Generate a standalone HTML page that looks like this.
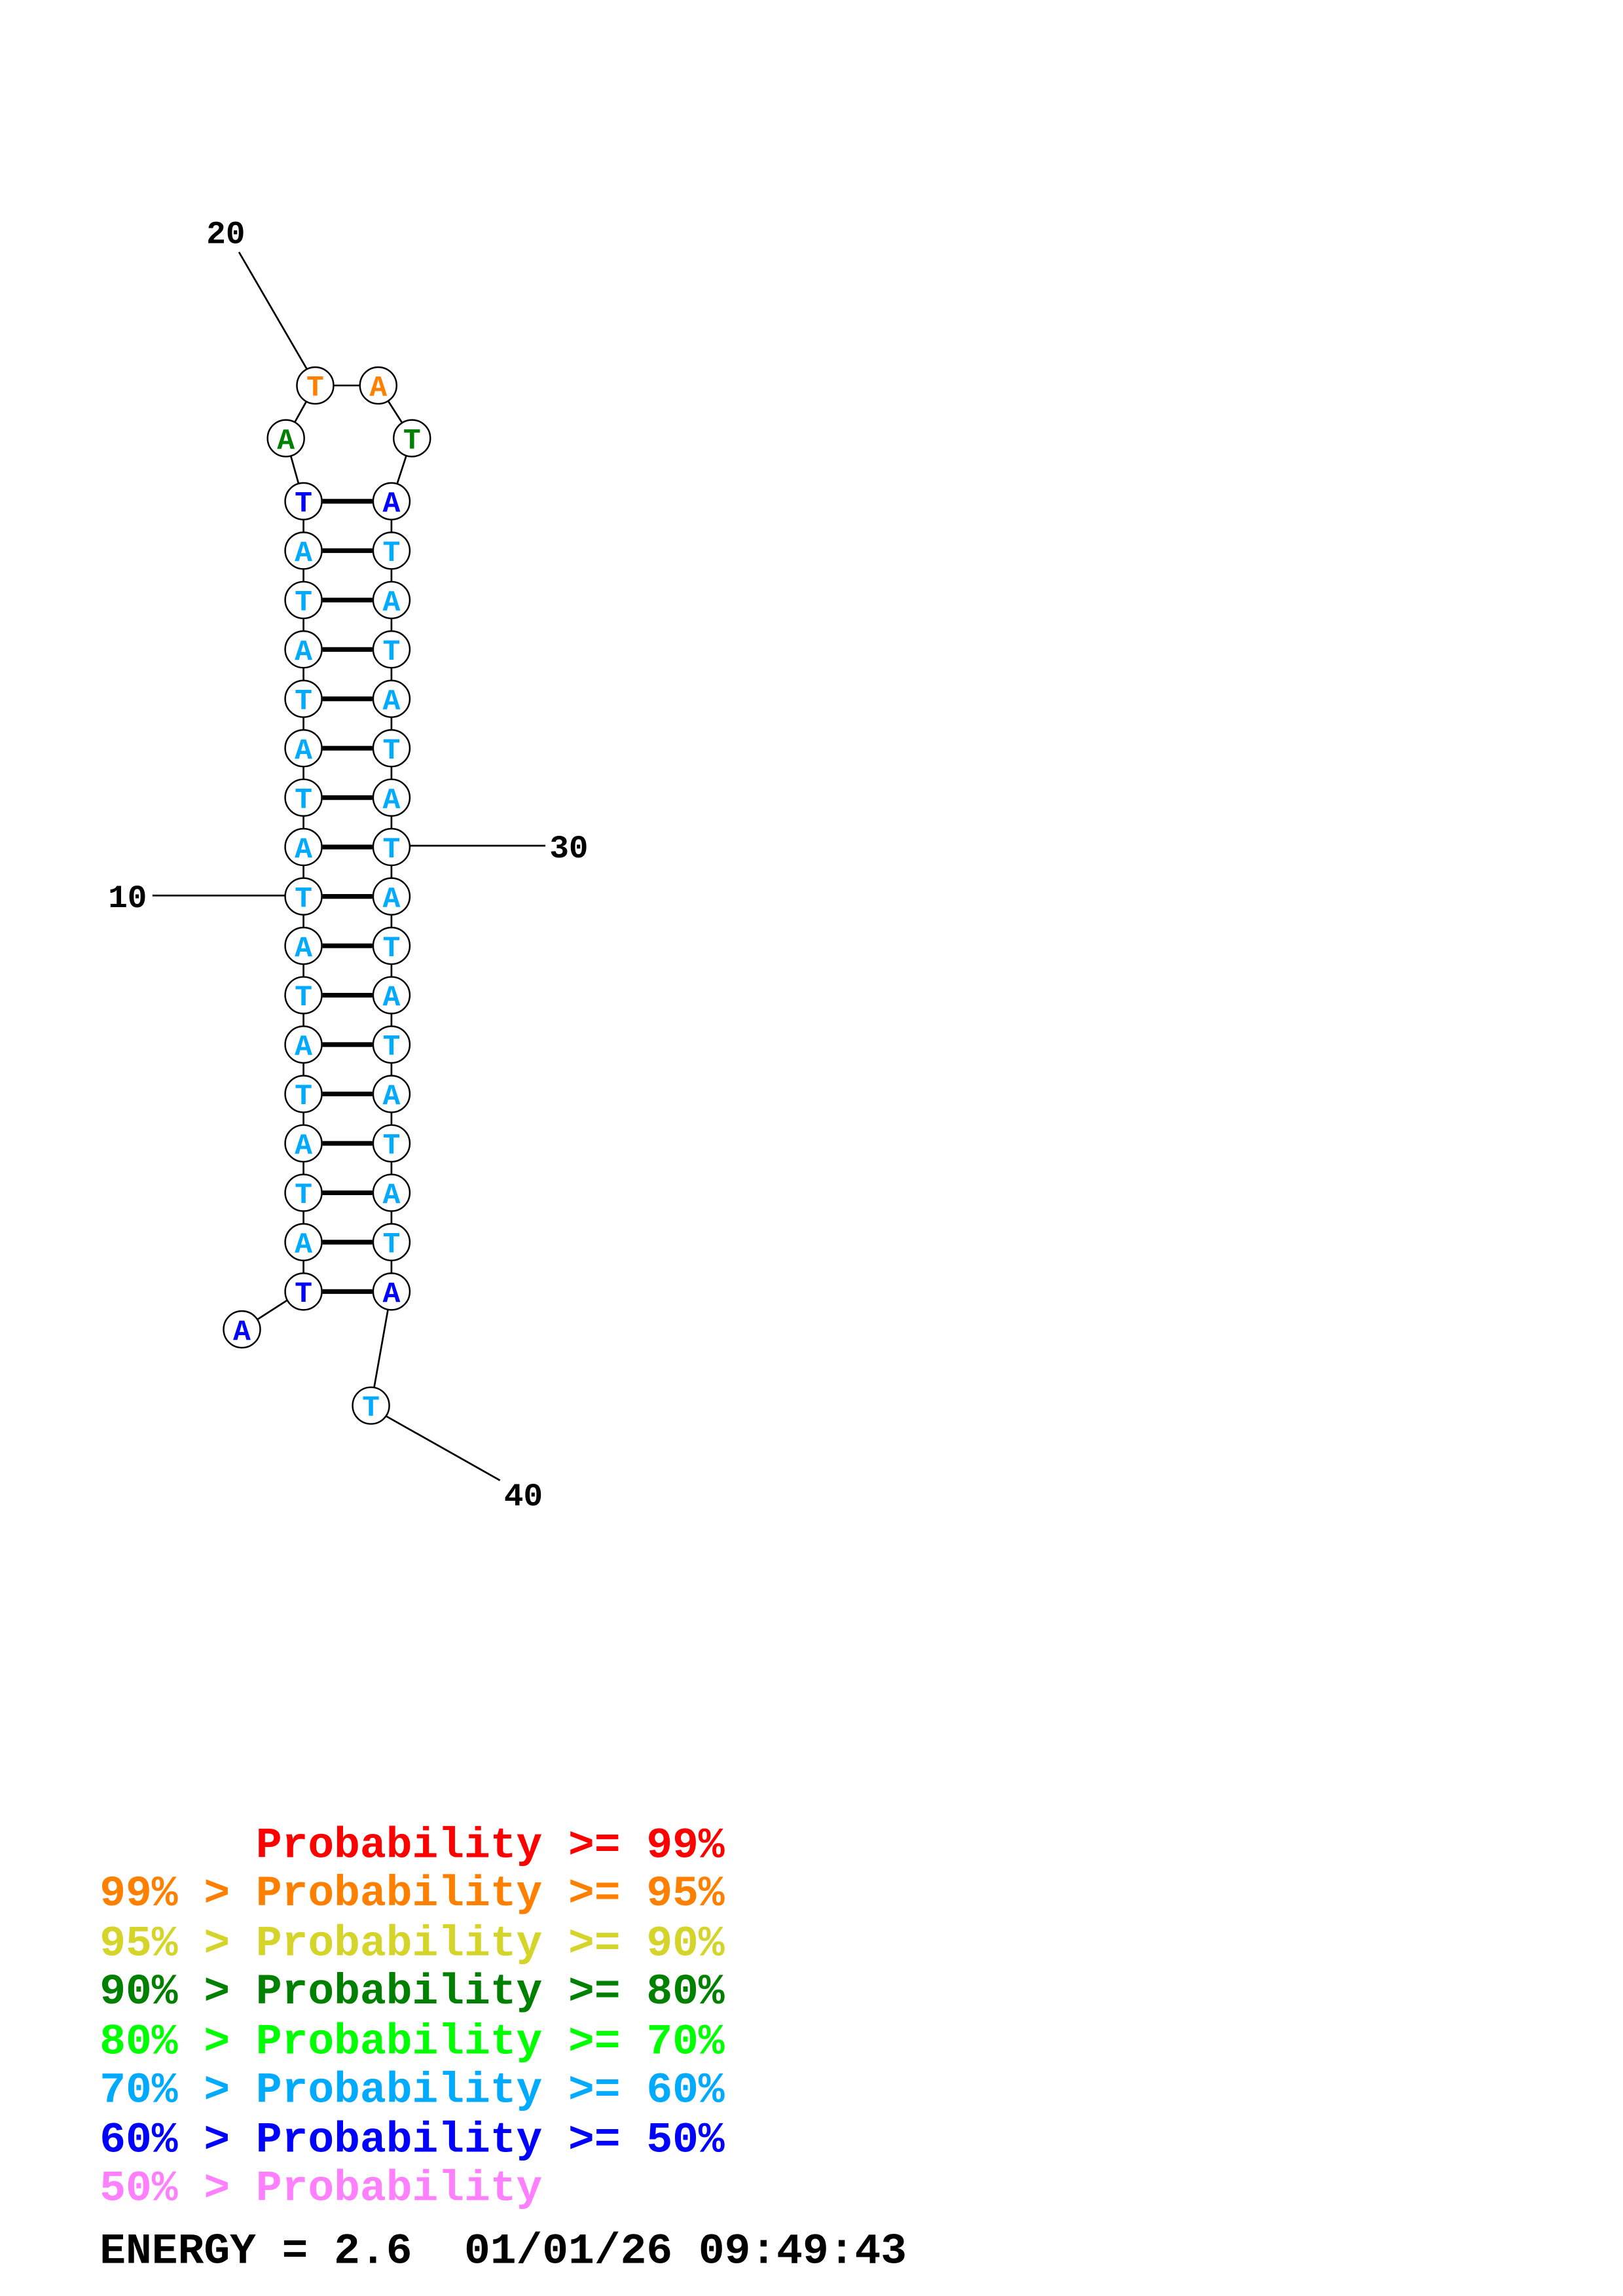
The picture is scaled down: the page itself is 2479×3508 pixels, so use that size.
<!DOCTYPE html>
<html><head><meta charset="utf-8"><style>
html,body{margin:0;padding:0;background:#fff;}
svg{display:block;}
text{font-family:"Liberation Mono","DejaVu Sans Mono",monospace;font-weight:bold;}
.pre text{white-space:pre;}
</style></head><body>
<svg width="2479" height="3508" viewBox="0 0 1107 1566.5" xmlns="http://www.w3.org/2000/svg">
<rect width="1107" height="1566.5" fill="#fff"/>
<g stroke="#000" stroke-width="1.2" fill="none">
<line x1="163" y1="172" x2="210" y2="253"/>
<line x1="104" y1="611" x2="197" y2="611"/>
<line x1="277" y1="577" x2="372" y2="577"/>
<line x1="263" y1="966" x2="341" y2="1010"/>
<line x1="215" y1="263" x2="258" y2="263"/>
<line x1="215" y1="263" x2="195" y2="299"/>
<line x1="258" y1="263" x2="281" y2="299"/>
<line x1="195" y1="299" x2="207" y2="342"/>
<line x1="281" y1="299" x2="267" y2="342"/>
<line x1="207" y1="342" x2="207" y2="880"/>
<line x1="267" y1="342" x2="267" y2="880"/>
<line x1="207" y1="880" x2="165" y2="907"/>
<line x1="267" y1="880" x2="253" y2="959"/>
</g>
<g stroke="#000" stroke-width="3.2">
<line x1="220" y1="342" x2="254" y2="342"/><line x1="220" y1="375.7" x2="254" y2="375.7"/>
<line x1="220" y1="409.4" x2="254" y2="409.4"/><line x1="220" y1="443.1" x2="254" y2="443.1"/>
<line x1="220" y1="476.8" x2="254" y2="476.8"/><line x1="220" y1="510.5" x2="254" y2="510.5"/>
<line x1="220" y1="544.2" x2="254" y2="544.2"/><line x1="220" y1="577.9" x2="254" y2="577.9"/>
<line x1="220" y1="611.6" x2="254" y2="611.6"/><line x1="220" y1="645.3" x2="254" y2="645.3"/>
<line x1="220" y1="679" x2="254" y2="679"/><line x1="220" y1="712.7" x2="254" y2="712.7"/>
<line x1="220" y1="746.4" x2="254" y2="746.4"/><line x1="220" y1="780.1" x2="254" y2="780.1"/>
<line x1="220" y1="813.8" x2="254" y2="813.8"/><line x1="220" y1="847.5" x2="254" y2="847.5"/>
<line x1="220" y1="881.2" x2="254" y2="881.2"/>
</g>
<g stroke="#000" stroke-width="1.1" fill="#fff">
<circle cx="215" cy="263" r="12.5"/><circle cx="258" cy="263" r="12.5"/>
<circle cx="195" cy="299" r="12.5"/><circle cx="281" cy="299" r="12.5"/>
<circle cx="165" cy="907" r="12.5"/><circle cx="253" cy="959" r="12.5"/>
<circle cx="207" cy="342" r="12.5"/><circle cx="267" cy="342" r="12.5"/>
<circle cx="207" cy="375.7" r="12.5"/><circle cx="267" cy="375.7" r="12.5"/>
<circle cx="207" cy="409.4" r="12.5"/><circle cx="267" cy="409.4" r="12.5"/>
<circle cx="207" cy="443.1" r="12.5"/><circle cx="267" cy="443.1" r="12.5"/>
<circle cx="207" cy="476.8" r="12.5"/><circle cx="267" cy="476.8" r="12.5"/>
<circle cx="207" cy="510.5" r="12.5"/><circle cx="267" cy="510.5" r="12.5"/>
<circle cx="207" cy="544.2" r="12.5"/><circle cx="267" cy="544.2" r="12.5"/>
<circle cx="207" cy="577.9" r="12.5"/><circle cx="267" cy="577.9" r="12.5"/>
<circle cx="207" cy="611.6" r="12.5"/><circle cx="267" cy="611.6" r="12.5"/>
<circle cx="207" cy="645.3" r="12.5"/><circle cx="267" cy="645.3" r="12.5"/>
<circle cx="207" cy="679" r="12.5"/><circle cx="267" cy="679" r="12.5"/>
<circle cx="207" cy="712.7" r="12.5"/><circle cx="267" cy="712.7" r="12.5"/>
<circle cx="207" cy="746.4" r="12.5"/><circle cx="267" cy="746.4" r="12.5"/>
<circle cx="207" cy="780.1" r="12.5"/><circle cx="267" cy="780.1" r="12.5"/>
<circle cx="207" cy="813.8" r="12.5"/><circle cx="267" cy="813.8" r="12.5"/>
<circle cx="207" cy="847.5" r="12.5"/><circle cx="267" cy="847.5" r="12.5"/>
<circle cx="207" cy="881.2" r="12.5"/><circle cx="267" cy="881.2" r="12.5"/>
</g>
<g font-size="20" text-anchor="middle" fill="#00aaff">
<text x="215" y="270" fill="#ff8000">T</text><text x="258" y="270" fill="#ff8000">A</text>
<text x="195" y="306" fill="#008000">A</text><text x="281" y="306" fill="#008000">T</text>
<text x="165" y="914" fill="#0000ff">A</text><text x="253" y="966">T</text>
<text x="207" y="349" fill="#0000ff">T</text><text x="267" y="349" fill="#0000ff">A</text>
<text x="207" y="382.7">A</text><text x="267" y="382.7">T</text>
<text x="207" y="416.4">T</text><text x="267" y="416.4">A</text>
<text x="207" y="450.1">A</text><text x="267" y="450.1">T</text>
<text x="207" y="483.8">T</text><text x="267" y="483.8">A</text>
<text x="207" y="517.5">A</text><text x="267" y="517.5">T</text>
<text x="207" y="551.2">T</text><text x="267" y="551.2">A</text>
<text x="207" y="584.9">A</text><text x="267" y="584.9">T</text>
<text x="207" y="618.6">T</text><text x="267" y="618.6">A</text>
<text x="207" y="652.3">A</text><text x="267" y="652.3">T</text>
<text x="207" y="686">T</text><text x="267" y="686">A</text>
<text x="207" y="719.7">A</text><text x="267" y="719.7">T</text>
<text x="207" y="753.4">T</text><text x="267" y="753.4">A</text>
<text x="207" y="787.1">A</text><text x="267" y="787.1">T</text>
<text x="207" y="820.8">T</text><text x="267" y="820.8">A</text>
<text x="207" y="854.5">A</text><text x="267" y="854.5">T</text>
<text x="207" y="888.2" fill="#0000ff">T</text><text x="267" y="888.2" fill="#0000ff">A</text>
</g>
<g font-size="22" text-anchor="middle" fill="#000">
<text x="154" y="166">20</text>
<text x="87" y="619">10</text>
<text x="388" y="585">30</text>
<text x="357" y="1027">40</text>
</g>
<g font-size="29.6" class="pre">
<text x="68" y="1267" fill="#ff0000">      Probability &gt;= 99%</text>
<text x="68" y="1300" fill="#ff8000">99% &gt; Probability &gt;= 95%</text>
<text x="68" y="1334" fill="#d4d42a">95% &gt; Probability &gt;= 90%</text>
<text x="68" y="1367" fill="#008000">90% &gt; Probability &gt;= 80%</text>
<text x="68" y="1401" fill="#00ff00">80% &gt; Probability &gt;= 70%</text>
<text x="68" y="1434" fill="#00aaff">70% &gt; Probability &gt;= 60%</text>
<text x="68" y="1468" fill="#0000ff">60% &gt; Probability &gt;= 50%</text>
<text x="68" y="1501" fill="#ff80ff">50% &gt; Probability</text>
<text x="68" y="1544" fill="#000">ENERGY = 2.6  01/01/26 09:49:43</text>
</g>
</svg>
</body></html>
